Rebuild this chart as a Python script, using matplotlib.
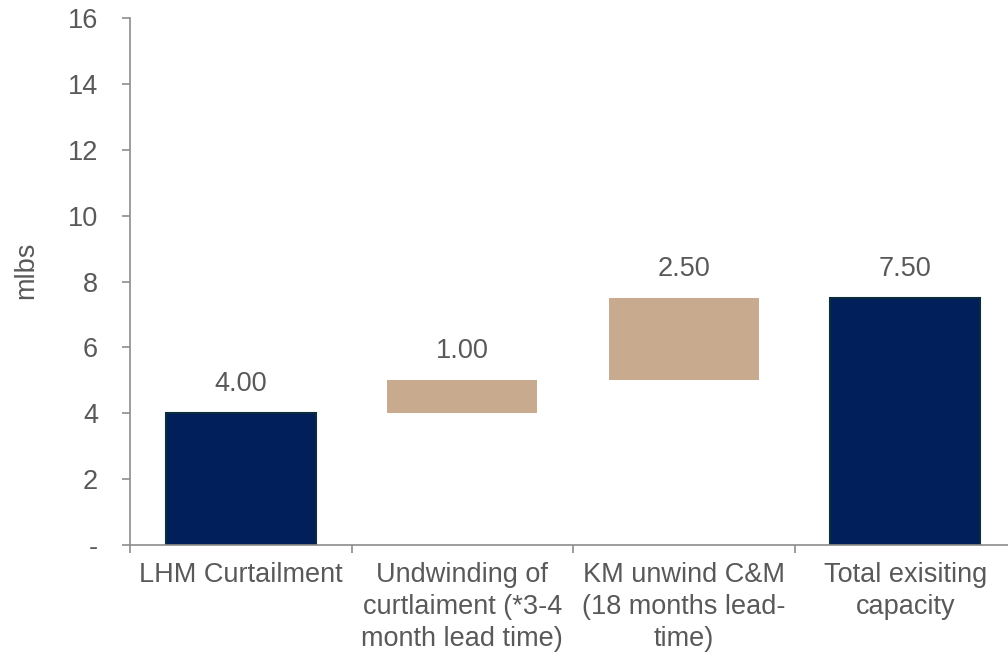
import numpy as np
import matplotlib.pyplot as plt

plt.rcParams['font.family'] = ['Liberation Sans', 'DejaVu Sans']

# ==================== data ====================
categories = ['LHM Curtailment',
              'Undwinding of\ncurtlaiment (*3-4\nmonth lead time)',
              'KM unwind C&M\n(18 months lead-\ntime)',
              'Total exisiting\ncapacity']
bottoms = [0.0, 4.0, 5.0, 0.0]
heights = [4.0, 1.0, 2.5, 7.5]
is_total = [True, False, False, True]
y_ticks = [0, 2, 4, 6, 8, 10, 12, 14, 16]
y_ticklabels = ['-', '2', '4', '6', '8', '10', '12', '14', '16']

NAVY = '#001F5B'
NAVY_EDGE = '#0B2D3B'
TAN = '#C8AA8F'
TXT = '#595959'
AXC = '#8C8C8C'
FS = 19.5

fig = plt.figure(figsize=(10.08, 6.53), dpi=100)
ax = fig.add_axes([130 / 1008, 108 / 653, 886 / 1008, 527 / 653])

x = np.arange(len(categories))
for i in range(len(categories)):
    if is_total[i]:
        ax.bar(x[i], heights[i], bottom=bottoms[i], width=0.675, color=NAVY,
               edgecolor=NAVY_EDGE, linewidth=1.5, zorder=2)
    else:
        ax.bar(x[i], heights[i], bottom=bottoms[i], width=0.675, color=TAN,
               linewidth=0, zorder=2)
    ax.text(x[i], bottoms[i] + heights[i] + 0.88, f"{heights[i]:.2f}",
            ha='center', va='center', fontsize=FS, color=TXT)

ax.set_xlim(-0.5, len(categories) - 0.5)
ax.set_ylim(0, 16)
ax.set_yticks(y_ticks)
ax.set_yticklabels(y_ticklabels)
ax.set_xticks(np.arange(len(categories) + 1) - 0.5)
ax.set_xticklabels([])
ax.set_xticks(x, minor=True)
ax.set_xticklabels(categories, minor=True, fontsize=FS, color=TXT,
                   linespacing=1.3, va='top')
ax.tick_params(axis='x', which='minor', length=0, pad=12)
ax.tick_params(axis='x', which='major', length=6, color=AXC, width=1.2)
ax.tick_params(axis='y', length=6, color=AXC, width=1.2, labelsize=FS,
               labelcolor=TXT, pad=17)

for s in ['top', 'right']:
    ax.spines[s].set_visible(False)
for s in ['left', 'bottom']:
    ax.spines[s].set_color(AXC)
    ax.spines[s].set_linewidth(1.2)

ax.set_ylabel('mlbs', fontsize=FS, color=TXT)
ax.yaxis.set_label_coords(-0.103, 0.522)

plt.savefig('out.png', dpi=100)
